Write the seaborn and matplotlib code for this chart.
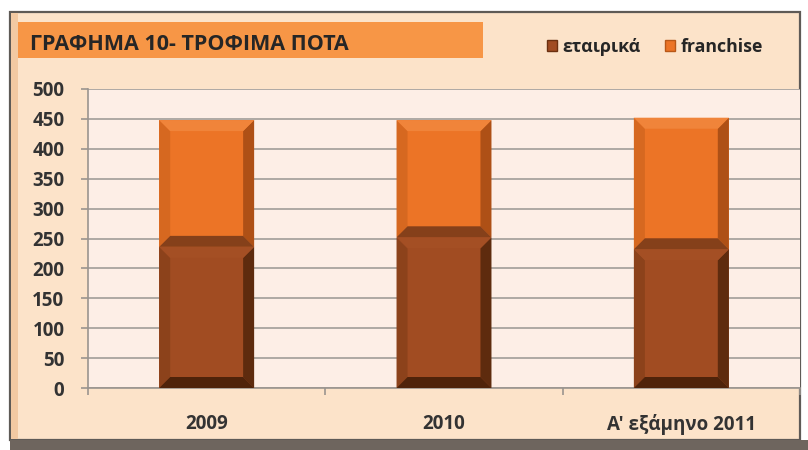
import matplotlib
matplotlib.use("Agg")
import matplotlib.pyplot as plt
from matplotlib.patches import Rectangle, Polygon
import seaborn as sns
import numpy as np

# Data
categories = ["2009", "2010", "Α' εξάμηνο 2011"]
etairika = [236, 252, 232]
franchise = [212, 196, 220]
series_labels = ["εταιρικά", "franchise"]
title = "ΓΡΑΦΗΜΑ 10- ΤΡΟΦΙΜΑ ΠΟΤΑ"
yticks = list(range(0, 501, 50))

totals = [a + b for a, b in zip(etairika, franchise)]

sns.set_theme(style="white")
plt.rcParams["font.family"] = ["Open Sans", "DejaVu Sans"]

W, H = 808, 450
fig = plt.figure(figsize=(W / 100, H / 100), dpi=100)
fig.patch.set_facecolor("white")

def fx(px):
    return px / W

def fy(py):
    return 1 - py / H

# outer chart frame
fig.patches.append(Rectangle((fx(10), fy(440)), fx(790), 428 / H, transform=fig.transFigure,
                             facecolor="#FCE3C9", edgecolor="#5E5A56", lw=1.6, zorder=-3))
fig.patches.append(Rectangle((fx(11), fy(439)), fx(7), 426 / H, transform=fig.transFigure,
                             facecolor="#F2C9A2", edgecolor="none", zorder=-2))
fig.patches.append(Rectangle((fx(10), 0), fx(798), 10 / H, transform=fig.transFigure,
                             facecolor="#6E655E", edgecolor="none", zorder=-2))
# title banner
fig.patches.append(Rectangle((fx(18), fy(58)), fx(465), 36 / H, transform=fig.transFigure,
                             facecolor="#F79646", edgecolor="none", zorder=-1))
fig.text(fx(30), fy(44), title, fontsize=15.5, fontweight="bold", color="#262626",
         ha="left", va="center", zorder=2)

ax = fig.add_axes([fx(88), fy(388), fx(800 - 88), (388 - 89) / H])
ax.set_zorder(2)
ax.set_facecolor("#FDEEE6")

orange = "#EC7426"
brown = "#A14C22"

sns.barplot(x=categories, y=totals, color=orange, width=0.4, ax=ax, saturation=1, zorder=3)
n_or = len(ax.patches)
sns.barplot(x=categories, y=etairika, color=brown, width=0.4, ax=ax, saturation=1, zorder=3)

ax.set_xlim(-0.5, len(categories) - 0.5)
ax.set_ylim(0, 500)

# franchise sits on top of εταιρικά
for p, base, val in zip(ax.patches[:n_or], etairika, franchise):
    p.set_y(base)
    p.set_height(val)

# bevelled edges
ax_w_px = (800 - 88)
ax_h_px = (388 - 89)
bev = 11
dx = bev * (len(categories)) / ax_w_px
dy = bev * 500 / ax_h_px

bevel_colors = {
    orange: dict(top="#F0843A", bottom="#85401A", left="#D66820", right="#AE5016"),
    brown: dict(top="#A44F24", bottom="#4F230A", left="#8C421B", right="#5E2B0E"),
}

def bevel(p, cols):
    x0, y0 = p.get_x(), p.get_y()
    x1, y1 = x0 + p.get_width(), y0 + p.get_height()
    polys = {
        "top": [(x0, y1), (x1, y1), (x1 - dx, y1 - dy), (x0 + dx, y1 - dy)],
        "bottom": [(x0, y0), (x1, y0), (x1 - dx, y0 + dy), (x0 + dx, y0 + dy)],
        "left": [(x0, y0), (x0 + dx, y0 + dy), (x0 + dx, y1 - dy), (x0, y1)],
        "right": [(x1, y0), (x1 - dx, y0 + dy), (x1 - dx, y1 - dy), (x1, y1)],
    }
    for k in ["left", "right", "top", "bottom"]:
        ax.add_patch(Polygon(polys[k], closed=True, facecolor=cols[k], edgecolor="none", zorder=4))

orange_bars = list(ax.patches[:n_or])
brown_bars = list(ax.patches[n_or:2 * n_or])
for p in orange_bars + brown_bars:
    p.set_edgecolor("none")
for p in orange_bars:
    bevel(p, bevel_colors[orange])
for p in brown_bars:
    bevel(p, bevel_colors[brown])

# axes styling
ax.set_yticks(yticks)
ax.yaxis.grid(True, color="#A8A39E", lw=1.3, zorder=1)
ax.set_axisbelow(True)
for s in ["top", "right"]:
    ax.spines[s].set_visible(False)
for s in ["left", "bottom"]:
    ax.spines[s].set_color("#9A948F")
    ax.spines[s].set_linewidth(1.2)
ax.tick_params(axis="y", which="major", length=5, width=1.2, color="#9A948F", pad=12,
               labelsize=13.5, labelcolor="#333333", left=True)
ax.tick_params(axis="x", which="major", length=0, pad=19, labelsize=13.5, labelcolor="#333333")
ax.set_xticks(np.arange(-0.5, len(categories), 1.0), minor=True)
ax.tick_params(axis="x", which="minor", length=5, width=1.2, color="#9A948F", bottom=True)
for lbl in ax.get_xticklabels() + ax.get_yticklabels():
    lbl.set_fontweight("bold")
ax.set_xlabel("")
ax.set_ylabel("")

handles = [Rectangle((0, 0), 1, 1, facecolor=brown, edgecolor="#6B3010"),
           Rectangle((0, 0), 1, 1, facecolor=orange, edgecolor="#B85818")]
fig.legend(handles, series_labels, loc="center", bbox_to_anchor=(fx(655), fy(47)), ncol=2,
           frameon=False, handlelength=0.56, handleheight=0.56, handletextpad=0.3,
           columnspacing=1.4, labelcolor="#262626",
           prop={"weight": "bold", "size": 12.8, "family": ["Open Sans", "DejaVu Sans"]})

fig.savefig("out.png", dpi=100, facecolor=fig.get_facecolor())
